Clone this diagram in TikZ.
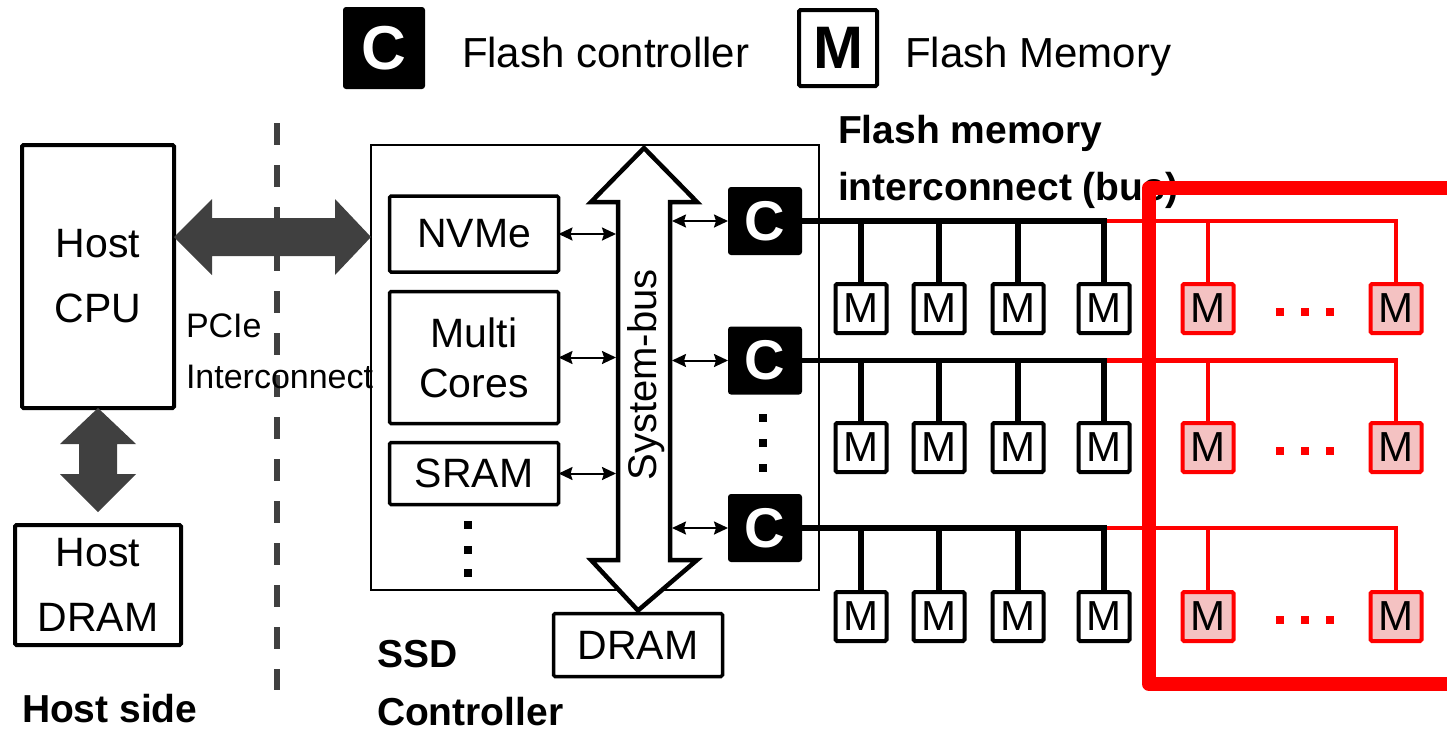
\documentclass[tikz,border=0pt]{standalone}
\usepackage{fontspec}
\setmainfont{Liberation Sans}
\usetikzlibrary{arrows.meta,calc}
\definecolor{darkg}{HTML}{404040}
\definecolor{pinkfill}{HTML}{F4C2C2}
\definecolor{pred}{HTML}{FF0000}
\newcommand\fsz[2]{\fontsize{#1}{#2}\selectfont}
\begin{document}
\begin{tikzpicture}[x=1pt,y=-1pt,
  every node/.style={inner sep=0pt, outer sep=0pt},
  hostbox/.style={draw, line width=4pt, rounded corners=1.5pt, fill=white, align=center, font=\fsz{41}{65}},
  ssdbox/.style={draw, line width=2pt},
  compbox/.style={draw, line width=3.5pt, rounded corners=1.5pt, minimum width=169pt, fill=white, align=center, font=\fsz{41}{50}},
  cbox/.style={fill=black, rounded corners=3pt, minimum width=74pt, minimum height=68pt, text=white, font=\bfseries\fsz{56}{56}},
  mbox/.style={draw, line width=4pt, rounded corners=1.5pt, fill=white, minimum width=51pt, minimum height=49pt, font=\fsz{42}{42}},
  redmbox/.style={mbox, draw=pred, fill=pinkfill},
  smallarrow/.style={{Stealth[length=14pt,width=13pt,inset=2pt]}-{Stealth[length=14pt,width=13pt,inset=2pt]}, line width=2pt},
  busline/.style={line width=5.5pt},
  redbus/.style={draw=pred, line width=4.5pt},
  boldlbl/.style={font=\bfseries\fsz{39}{39}, anchor=base west},
  plainlbl/.style={font=\fsz{42}{42}, anchor=base west},
]
\useasboundingbox (0,0) rectangle (1447,731);

% legend
\node[cbox, minimum width=82pt, minimum height=82pt, font=\bfseries\fsz{62}{62}] (lc) at (384,48) {C};
\node[plainlbl] (lct) at (462,67) {Flash controller};
\node[mbox, minimum width=78pt, minimum height=76pt, font=\bfseries\fsz{60}{60}] (lm) at (838,48) {M};
\node[plainlbl] (lmt) at (905,67) {Flash Memory};

% host side
\node[hostbox, minimum width=152pt, minimum height=263pt] (cpu) at (98,276.5) {Host\\CPU};
\node[hostbox, minimum width=166pt, minimum height=120pt] (hdram) at (98,585) {Host\\DRAM};
\node[boldlbl] (hside) at (22,722) {Host side};

\draw[darkg, line width=6pt, dash pattern=on 22pt off 20pt] (277,123) -- (277,690);

\node[font=\fsz{34}{34}, anchor=base west] (pcie1) at (186,337) {PCIe};
\node[font=\fsz{34}{34}, anchor=base west] (pcie2) at (186,388) {Interconnect};

% SSD controller
\node[ssdbox, minimum width=448pt, minimum height=445pt] (ssd) at (595,367.5) {};
\node[compbox, minimum height=76pt] (nvme) at (474,234) {NVMe};
\node[compbox, minimum height=132pt] (cores) at (474,357.5) {Multi\\Cores};
\node[compbox, minimum height=62pt] (sram) at (474,473.5) {SRAM};
\node[compbox, minimum height=63pt] (dram) at (638,645) {DRAM};
\node[boldlbl] (ssd1) at (377,667) {SSD};
\node[boldlbl] (ssd2) at (377,725) {Controller};

\foreach \yy in {525,550,573} \fill (464,{\yy-4}) rectangle ++(8,8);

% host arrows
\coordinate (hT) at (cpu.south);
\coordinate (hB) at ($(hdram.north)+(0,-13)$);
\fill[darkg] (hT) -- ++(38,36) -- ++(-19,0) -- ($(hB)+(19,-38)$) -- ++(19,0) -- (hB) -- ++(-38,-38) -- ++(19,0) -- ($(hT)+(-19,36)$) -- ++(-19,0) -- cycle;
\coordinate (pL) at (cpu.east |- 0,237);
\coordinate (pR) at (ssd.west |- 0,237);
\fill[darkg] (pL) -- ++(38,-38) -- ++(0,19) -- ($(pR)+(-36,-19)$) -- ++(0,-19) -- (pR) -- ++(-36,38) -- ++(0,-19) -- ($(pL)+(38,19)$) -- ++(0,19) -- cycle;

% system bus
\coordinate (bt) at (644,148);
\coordinate (bb) at ($(dram.north)+(0,-3)$);
\draw[line width=4.5pt, fill=white, miter limit=10] (bt) -- (697,202) -- (670,202) -- (670,560) -- (697,560) -- (bb) -- (591,560) -- (618,560) -- (618,202) -- (591,202) -- cycle;
\node[rotate=90, font=\fsz{40}{40}] (sbl) at (646,375) {System-bus};
\coordinate (busL) at (616,0);
\coordinate (busR) at (672,0);
\draw[smallarrow] (nvme.east) -- (nvme.east -| busL);
\draw[smallarrow] (cores.east) -- (cores.east -| busL);
\draw[smallarrow] (sram.east) -- (sram.east -| busL);

% flash controllers
\node[cbox] (c1) at (765,221) {C};
\node[cbox] (c2) at (765,360.5) {C};
\node[cbox] (c3) at (765,528) {C};
\foreach \yy in {418,443,468} \fill (759,{\yy-4}) rectangle ++(8,8);
\draw[smallarrow] (c1.west -| busR) -- (c1.west);
\draw[smallarrow] (c2.west -| busR) -- (c2.west);
\draw[smallarrow] (c3.west -| busR) -- (c3.west);

\node[boldlbl] (fm1) at (838,143) {Flash memory};
\node[boldlbl] (fm2) at (838,200) {interconnect (bus)};

% flash memories
\foreach \r/\my in {1/308.5, 2/447.5, 3/616.5} {
  \foreach \i/\mx in {1/861,2/939,3/1018,4/1104} \node[mbox] (m\r\i) at (\mx,\my) {M};
  \foreach \i/\mx in {5/1208,6/1396} \node[redmbox] (m\r\i) at (\mx,\my) {M};
  \draw[redbus] (m\r4.north |- c\r.east) -- (m\r6.north |- c\r.east) -- (m\r6.north);
  \draw[redbus] (m\r5.north |- c\r.east) -- (m\r5.north);
  \draw[busline] (c\r.east) -- (m\r4.north |- c\r.east) -- (m\r4.north);
  \foreach \i in {1,2,3} \draw[busline] (m\r\i.north |- c\r.east) -- (m\r\i.north);
  \foreach \dx in {1280,1305,1330} \fill[pred] ({\dx-4},{\my-1}) rectangle ++(8,8);
}

% red highlight
\draw[pred, line width=14pt, line join=round] (1470,188) -- (1149,188) -- (1149,684) -- (1470,684);
\end{tikzpicture}
\end{document}
